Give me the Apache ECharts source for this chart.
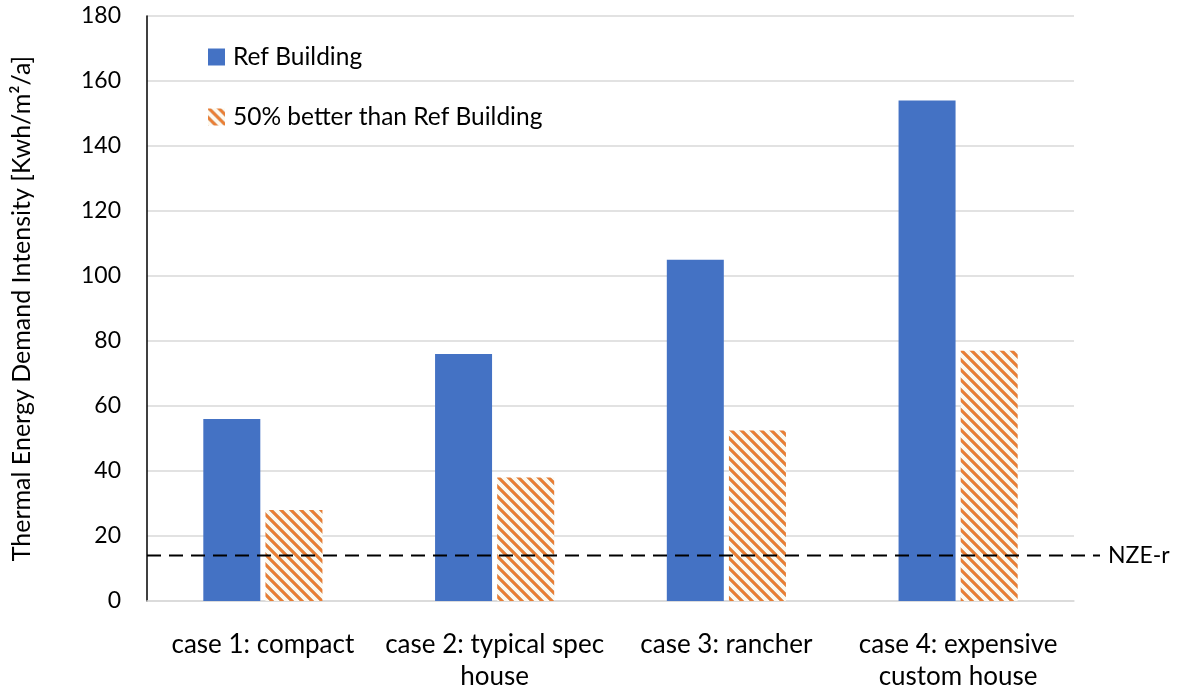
<!DOCTYPE html>
<html>
<head>
<meta charset="utf-8">
<script src="https://cdn.jsdelivr.net/npm/echarts@6/dist/echarts.min.js"></script>
<style>
  html, body { margin: 0; padding: 0; background: #fff; overflow: hidden; }
  #chart { width: 1177px; height: 688px; }
</style>
</head>
<body>
<div id="chart"></div>
<script>
// Thermal energy demand intensity per house type
const categories = ['case 1: compact', 'case 2: typical spec\nhouse', 'case 3: rancher', 'case 4: expensive\ncustom house'];
const refBuilding = [56, 76, 105, 154];
const betterBuilding = [28, 38, 52.5, 77];
const nzeR = 14;
const seriesNames = ['Ref Building', '50% better than Ref Building'];
const yMin = 0, yMax = 180, yStep = 20;

const FONT = 'Lato';

// diagonal hatch tile: orange stripes running top-left to bottom-right on cream
function makeHatch() {
  const n = 10;
  const c = document.createElement('canvas');
  c.width = n; c.height = n;
  const ctx = c.getContext('2d');
  const img = ctx.createImageData(n, n);
  for (let y = 0; y < n; y++) {
    for (let x = 0; x < n; x++) {
      const d = ((x - y) % n + n) % n;
      let col;
      if (d <= 2) col = [237, 125, 49];
      else if (d === 3 || d === n - 1) col = [214, 160, 118];
      else col = [254, 249, 238];
      const i = (y * n + x) * 4;
      img.data[i] = col[0]; img.data[i + 1] = col[1]; img.data[i + 2] = col[2]; img.data[i + 3] = 255;
    }
  }
  ctx.putImageData(img, 0, 0);
  return c;
}
const hatch = { image: makeHatch(), repeat: 'repeat' };

const chart = echarts.init(document.getElementById('chart'), null, { renderer: 'canvas' });

const option = {
  animation: false,
  backgroundColor: '#ffffff',
  textStyle: { fontFamily: FONT, color: '#000' },
  grid: { left: 147, right: 103, top: 16, bottom: 87, containLabel: false, outerBoundsMode: 'none' },
  legend: {
    orient: 'vertical',
    left: 203,
    top: 39,
    icon: 'rect',
    itemWidth: 17,
    itemHeight: 17,
    itemGap: 34,
    textStyle: { fontFamily: FONT, fontSize: 24.5, lineHeight: 26, color: '#000', padding: [0, 0, 0, 3] },
    data: seriesNames
  },
  xAxis: {
    type: 'category',
    data: categories,
    axisLine: { show: true, lineStyle: { color: '#d9d9d9', width: 1.5 } },
    axisTick: { show: false },
    axisLabel: {
      fontFamily: FONT, fontSize: 26, color: '#000', margin: 28, lineHeight: 32, interval: 0
    }
  },
  yAxis: {
    type: 'value',
    min: yMin, max: yMax, interval: yStep,
    name: 'Thermal Energy Demand Intensity [Kwh/m\u00B2/a]',
    nameLocation: 'middle',
    nameGap: 113,
    nameTextStyle: { fontFamily: FONT, fontSize: 25, color: '#000' },
    axisLine: { show: true, lineStyle: { color: '#000', width: 1.5 } },
    axisTick: { show: false },
    axisLabel: { fontFamily: FONT, fontSize: 23, color: '#000', margin: 26 },
    splitLine: { show: true, lineStyle: { color: '#d9d9d9', width: 1.5 } }
  },
  series: [
    {
      name: seriesNames[0],
      type: 'bar',
      data: refBuilding,
      barWidth: 57,
      barGap: '9%',
      itemStyle: { color: '#4472c4' }
    },
    {
      name: seriesNames[1],
      type: 'bar',
      data: betterBuilding,
      barWidth: 57,
      barGap: '9%',
      itemStyle: { color: hatch }
    }
  ]
};

chart.setOption(option);

// NZE-r reference line, placed through the value axis
const rect = chart.getModel().getComponent('grid').coordinateSystem.getRect();
const yLine = chart.convertToPixel({ yAxisIndex: 0 }, nzeR);
const xEnd = rect.x + rect.width + 26;
chart.setOption({
  graphic: [
    {
      type: 'line',
      z: 10,
      shape: { x1: rect.x, y1: yLine, x2: xEnd, y2: yLine },
      style: { stroke: '#000', lineWidth: 2, lineDash: [14, 8] }
    },
    {
      type: 'text',
      z: 10,
      x: xEnd + 8,
      y: yLine,
      style: { text: 'NZE-r', fontFamily: FONT, fontSize: 23, fill: '#000', verticalAlign: 'middle' }
    }
  ]
});
</script>
</body>
</html>
